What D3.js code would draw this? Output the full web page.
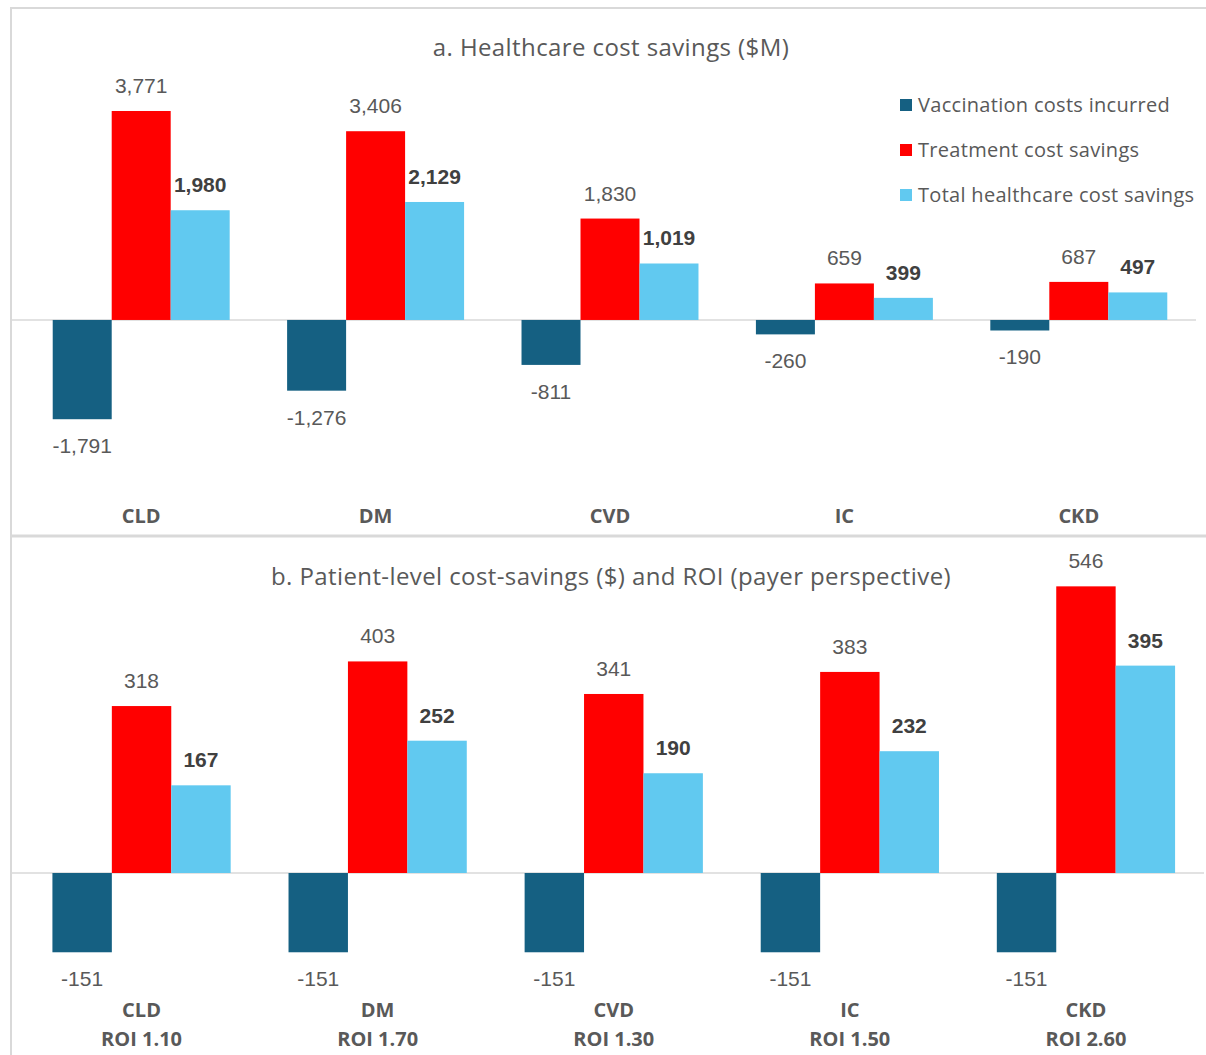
<!DOCTYPE html>
<html>
<head>
<meta charset="utf-8">
<script src="https://cdn.jsdelivr.net/npm/d3@7"></script>
<style>
  body { margin: 0; background: #fff; }
  svg { display: block; }
</style>
</head>
<body>
<svg id="chart" width="1206" height="1055"></svg>
<script>
const categories = ["CLD", "DM", "CVD", "IC", "CKD"]
const seriesNames = ["Vaccination costs incurred", "Treatment cost savings", "Total healthcare cost savings"]

// panel a, $M
const vaccA = [-1791, -1276, -811, -260, -190]
const treatA = [3771, 3406, 1830, 659, 687]
const totalA = [1980, 2129, 1019, 399, 497]

// panel b, $ per patient
const vaccB = [-151, -151, -151, -151, -151]
const treatB = [318, 403, 341, 383, 546]
const totalB = [167, 252, 190, 232, 395]
const roiLabels = ["ROI 1.10", "ROI 1.70", "ROI 1.30", "ROI 1.50", "ROI 2.60"]

const colors = ["#156082", "#ff0000", "#61c9f0"]
const textGray = "#595959"
const boldGray = "#404040"
const lineGray = "#d9d9d9"
const numFont = "'Liberation Sans', Arial, sans-serif"
const txtFont = "'Open Sans', 'Noto Sans', sans-serif"

const svg = d3.select("#chart")
// plain hyphen for negatives, like the original
const fmt = d3.formatLocale({ decimal: ".", thousands: ",", grouping: [3], currency: ["$", ""], minus: "-" }).format(",")

// frame lines
svg.append("line").attr("x1", 11).attr("x2", 1206).attr("y1", 8).attr("y2", 8)
  .attr("stroke", lineGray).attr("stroke-width", 2)
svg.append("line").attr("x1", 11).attr("x2", 11).attr("y1", 7).attr("y2", 1055)
  .attr("stroke", lineGray).attr("stroke-width", 2)
svg.append("line").attr("x1", 11).attr("x2", 1206).attr("y1", 536).attr("y2", 536)
  .attr("stroke", lineGray).attr("stroke-width", 3)

const drawPanel = function (cfg) {
  const g = svg.append("g")
  const x0 = d3.scaleBand().domain(categories).range(cfg.xRange)
    .paddingInner(0.245).paddingOuter(0.1225)
  const x1 = d3.scaleBand().domain(d3.range(3)).range([0, x0.bandwidth()])
  const y = d3.scaleLinear().domain(cfg.yDomain).range(cfg.yRange)

  g.append("text")
    .attr("x", 611).attr("y", cfg.titleY)
    .attr("text-anchor", "middle")
    .style("font-family", txtFont).style("font-size", "24px")
    .style("letter-spacing", "0.4px")
    .attr("fill", textGray)
    .text(cfg.title)

  // zero line
  g.append("line")
    .attr("x1", 12).attr("x2", cfg.xRange[1])
    .attr("y1", y(0)).attr("y2", y(0))
    .attr("stroke", lineGray).attr("stroke-width", 1.5)

  const series = [cfg.vacc, cfg.treat, cfg.total]
  series.forEach((vals, s) => {
    categories.forEach((c, i) => {
      const v = vals[i]
      const bx = x0(c) + x1(s)
      g.append("rect")
        .attr("x", bx).attr("width", x1.bandwidth())
        .attr("y", Math.min(y(v), y(0)))
        .attr("height", Math.abs(y(v) - y(0)))
        .attr("fill", colors[s])
      const ly = v >= 0 ? y(v) - 18 : y(v) + 34
      g.append("text")
        .attr("x", bx + x1.bandwidth() / 2).attr("y", ly)
        .attr("text-anchor", "middle")
        .style("font-family", numFont)
        .style("font-size", "21px")
        .style("font-weight", s == 2 ? "bold" : "normal")
        .attr("fill", s == 2 ? boldGray : textGray)
        .text(fmt(v))
    })
  })

  // category labels
  categories.forEach((c, i) => {
    const cx = x0(c) + x0.bandwidth() / 2
    const lines = cfg.roi ? [c, cfg.roi[i]] : [c]
    lines.forEach((t, k) => {
      g.append("text")
        .attr("x", cx).attr("y", cfg.catY + k * 29)
        .attr("text-anchor", "middle")
        .style("font-family", txtFont).style("font-size", "20px")
        .style("font-weight", "bold")
        .attr("fill", textGray)
        .text(t)
    })
  })
}

drawPanel({
  title: "a. Healthcare cost savings ($M)",
  titleY: 56,
  vacc: vaccA, treat: treatA, total: totalA,
  xRange: [24, 1196],
  yDomain: [-2000, 4000], yRange: [430.8, 98.3],
  catY: 523
})

drawPanel({
  title: "b. Patient-level cost-savings ($) and ROI (payer perspective)",
  titleY: 585,
  vacc: vaccB, treat: treatB, total: totalB,
  xRange: [23.5, 1204],
  yDomain: [-200, 600], yRange: [978, 558],
  catY: 1017,
  roi: roiLabels
})

// legend
const legend = svg.append("g").attr("transform", "translate(900, 105)")
seriesNames.forEach((n, i) => {
  const row = legend.append("g").attr("transform", `translate(0, ${i * 45})`)
  row.append("rect").attr("x", 0).attr("y", -6).attr("width", 12).attr("height", 12)
    .attr("fill", colors[i])
  row.append("text").attr("x", 18).attr("y", 7)
    .style("font-family", txtFont).style("font-size", "20px")
    .style("letter-spacing", "0.3px")
    .attr("fill", textGray)
    .text(n)
})
</script>
</body>
</html>
